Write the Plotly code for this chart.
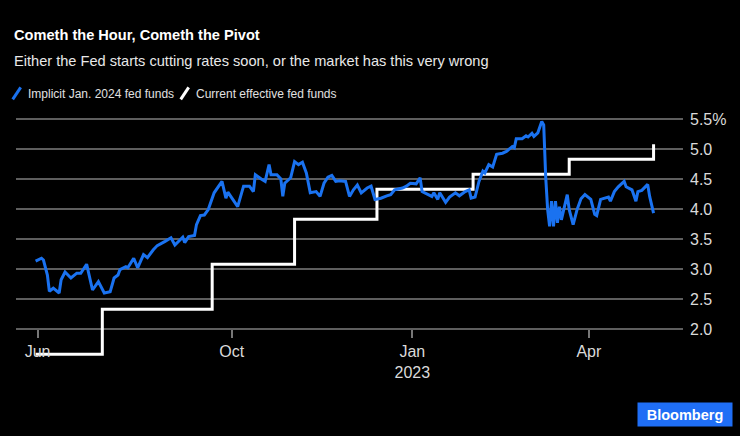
import plotly.graph_objects as go

# ---------------- data ----------------
blue_dates = [
    "2022-06-23", "2022-06-26", "2022-06-27", "2022-06-29", "2022-06-30", "2022-07-02",
    "2022-07-05", "2022-07-06", "2022-07-08", "2022-07-11", "2022-07-14", "2022-07-16",
    "2022-07-19", "2022-07-22", "2022-07-25", "2022-07-28", "2022-07-31", "2022-08-02",
    "2022-08-04", "2022-08-05", "2022-08-08", "2022-08-09", "2022-08-12", "2022-08-14",
    "2022-08-17", "2022-08-19", "2022-08-22", "2022-08-24", "2022-08-28", "2022-08-31",
    "2022-09-02", "2022-09-06", "2022-09-07", "2022-09-09", "2022-09-12", "2022-09-13",
    "2022-09-15", "2022-09-17", "2022-09-19", "2022-09-22", "2022-09-26", "2022-09-28",
    "2022-09-29", "2022-10-04", "2022-10-07", "2022-10-10", "2022-10-12", "2022-10-13",
    "2022-10-16", "2022-10-18", "2022-10-20", "2022-10-21", "2022-10-24", "2022-10-26",
    "2022-10-27", "2022-10-28", "2022-10-31", "2022-11-02", "2022-11-04", "2022-11-06",
    "2022-11-08", "2022-11-10", "2022-11-13", "2022-11-15", "2022-11-17", "2022-11-19",
    "2022-11-21", "2022-11-23", "2022-11-25", "2022-11-28", "2022-11-30", "2022-12-02",
    "2022-12-04", "2022-12-06", "2022-12-09", "2022-12-11", "2022-12-13", "2022-12-16",
    "2022-12-19", "2022-12-21", "2022-12-23", "2022-12-27", "2022-12-29", "2022-12-31",
    "2023-01-03", "2023-01-05", "2023-01-06", "2023-01-09", "2023-01-11", "2023-01-12",
    "2023-01-14", "2023-01-15", "2023-01-18", "2023-01-20", "2023-01-23", "2023-01-25",
    "2023-01-28", "2023-01-30", "2023-01-31", "2023-02-02", "2023-02-04", "2023-02-06",
    "2023-02-07", "2023-02-09", "2023-02-11", "2023-02-13", "2023-02-16", "2023-02-18",
    "2023-02-21", "2023-02-22", "2023-02-23", "2023-02-26", "2023-02-28", "2023-03-01",
    "2023-03-03", "2023-03-04", "2023-03-06", "2023-03-08", "2023-03-09", "2023-03-10",
    "2023-03-11", "2023-03-12", "2023-03-13", "2023-03-14", "2023-03-15", "2023-03-16",
    "2023-03-17", "2023-03-18", "2023-03-21", "2023-03-22", "2023-03-24", "2023-03-26",
    "2023-03-28", "2023-03-30", "2023-04-02", "2023-04-04", "2023-04-05", "2023-04-07",
    "2023-04-09", "2023-04-11", "2023-04-12", "2023-04-14", "2023-04-16", "2023-04-19",
    "2023-04-20", "2023-04-23", "2023-04-25", "2023-04-26", "2023-04-28", "2023-05-01",
    "2023-05-02", "2023-05-04",
]
blue_values = [
    3.13, 3.18, 3.15, 2.90, 2.63, 2.68,
    2.60, 2.82, 2.95, 2.85, 2.93, 2.93,
    3.08, 2.65, 2.79, 2.60, 2.62, 2.85,
    2.90, 2.99, 3.04, 3.02, 3.18, 3.02,
    3.24, 3.19, 3.32, 3.39, 3.46, 3.52,
    3.40, 3.53, 3.44, 3.54, 3.56, 3.74,
    3.89, 3.90, 3.99, 4.27, 4.46, 4.18,
    4.28, 4.04, 4.38, 4.38, 4.29, 4.57,
    4.50, 4.46, 4.74, 4.57, 4.57, 4.50,
    4.21, 4.43, 4.52, 4.79, 4.74, 4.78,
    4.60, 4.27, 4.29, 4.21, 4.43, 4.53,
    4.56, 4.46, 4.47, 4.46, 4.21, 4.32,
    4.40, 4.27, 4.35, 4.38, 4.16, 4.18,
    4.22, 4.24, 4.32, 4.35, 4.38, 4.43,
    4.42, 4.52, 4.29, 4.25, 4.21, 4.27,
    4.16, 4.27, 4.11, 4.20, 4.27, 4.22,
    4.29, 4.32, 4.18, 4.20, 4.46, 4.63,
    4.60, 4.74, 4.70, 4.91, 4.93, 4.96,
    5.04, 5.02, 5.17, 5.17, 5.22, 5.20,
    5.26, 5.21, 5.27, 5.46, 5.40, 4.54,
    3.99, 3.71, 4.13, 3.71, 4.13, 3.77,
    4.04, 3.82, 4.24, 3.99, 3.74, 3.99,
    4.17, 4.24, 4.16, 3.91, 3.89, 4.16,
    4.18, 4.20, 4.13, 4.29, 4.37, 4.46,
    4.37, 4.32, 4.13, 4.29, 4.31, 4.41,
    4.21, 3.93,
]

white_dates = ["2022-06-23", "2022-07-27", "2022-09-21", "2022-11-02",
               "2022-12-14", "2023-02-01", "2023-03-22", "2023-05-04"]
white_values = [1.58, 2.33, 3.08, 3.83, 4.33, 4.58, 4.83, 5.08]

y_tickvals = [2.0, 2.5, 3.0, 3.5, 4.0, 4.5, 5.0, 5.5]
y_ticktext = ["2.0", "2.5", "3.0", "3.5", "4.0", "4.5", "5.0", "5.5%"]
x_tickvals = ["2022-06-24", "2022-10-01", "2023-01-01", "2023-04-01"]
x_ticktext = ["Jun", "Oct", "Jan<br>2023", "Apr"]

series_names = ["Implicit Jan. 2024 fed funds", "Current effective fed funds"]
title_text = "Cometh the Hour, Cometh the Pivot"
subtitle_text = "Either the Fed starts cutting rates soon, or the market has this very wrong"

# ---------------- layout constants ----------------
W, H = 740, 436
ML, MR, MT, MB = 16, 57, 110, 74
Y_RANGE = [1.45, 5.65]
X_RANGE = ["2022-06-13", "2023-05-19"]
PW, PH = W - ML - MR, H - MT - MB

BLUE = "#1a72f0"
REG = "Liberation Sans, Arial, sans-serif"


def px(x):
    return (x - ML) / PW


def py(y):
    return (H - MB - y) / PH


fig = go.Figure()
fig.add_trace(go.Scatter(x=white_dates, y=white_values, mode="lines",
                         line=dict(color="#ffffff", width=3, shape="hv"),
                         name=series_names[1], showlegend=False, hoverinfo="skip"))
fig.add_trace(go.Scatter(x=blue_dates, y=blue_values, mode="lines",
                         line=dict(color=BLUE, width=3),
                         name=series_names[0], showlegend=False, hoverinfo="skip"))

annotations = [
    dict(text="<b>" + title_text + "</b>", x=px(12), y=py(35.5), xref="paper", yref="paper",
         xanchor="left", yanchor="middle", showarrow=False,
         font=dict(family=REG, size=14.6, color="#ffffff")),
    dict(text=subtitle_text, x=px(12), y=py(60.5), xref="paper", yref="paper",
         xanchor="left", yanchor="middle", showarrow=False,
         font=dict(family=REG, size=14.6, color="#e8e8e8")),
    dict(text=series_names[0], x=px(25.5), y=py(93.5), xref="paper", yref="paper",
         xanchor="left", yanchor="middle", showarrow=False,
         font=dict(family=REG, size=12, color="#e0e0e0")),
    dict(text=series_names[1], x=px(193.5), y=py(93.5), xref="paper", yref="paper",
         xanchor="left", yanchor="middle", showarrow=False,
         font=dict(family=REG, size=12, color="#e0e0e0")),
    dict(text="<b>Bloomberg</b>", x=px(733), y=py(414.5), xref="paper", yref="paper",
         xanchor="right", yanchor="middle", showarrow=False,
         width=88, height=17, borderpad=3, bgcolor="#1f6ef5",
         font=dict(family=REG, size=14.5, color="#ffffff")),
]

shapes = [
    dict(type="line", xref="paper", yref="paper", x0=px(12.7), y0=py(99.3), x1=px(20.7), y1=py(87.3),
         line=dict(color=BLUE, width=3)),
    dict(type="line", xref="paper", yref="paper", x0=px(180.7), y0=py(99.3), x1=px(188.7), y1=py(87.3),
         line=dict(color="#ffffff", width=3)),
]

fig.update_layout(
    width=W, height=H, autosize=False,
    margin=dict(l=ML, r=MR, t=MT, b=MB, pad=0),
    paper_bgcolor="#000000", plot_bgcolor="#000000",
    showlegend=False,
    annotations=annotations, shapes=shapes,
    xaxis=dict(type="date", range=X_RANGE, tickvals=x_tickvals, ticktext=x_ticktext,
               showgrid=False, zeroline=False, showline=False,
               ticks="outside", ticklen=8, tickwidth=1.5, tickcolor="#777777",
               anchor="free", position=(2.0 - Y_RANGE[0]) / (Y_RANGE[1] - Y_RANGE[0]),
               tickfont=dict(family=REG, size=16, color="#dadada")),
    yaxis=dict(range=Y_RANGE, side="right", tickvals=y_tickvals, ticktext=y_ticktext,
               showgrid=True, gridcolor="#5e5e5e", gridwidth=1.5, zeroline=False,
               showline=False, ticks="", ticklabelstandoff=6,
               tickfont=dict(family=REG, size=16, color="#dadada")),
)

fig.write_html("out.html")
